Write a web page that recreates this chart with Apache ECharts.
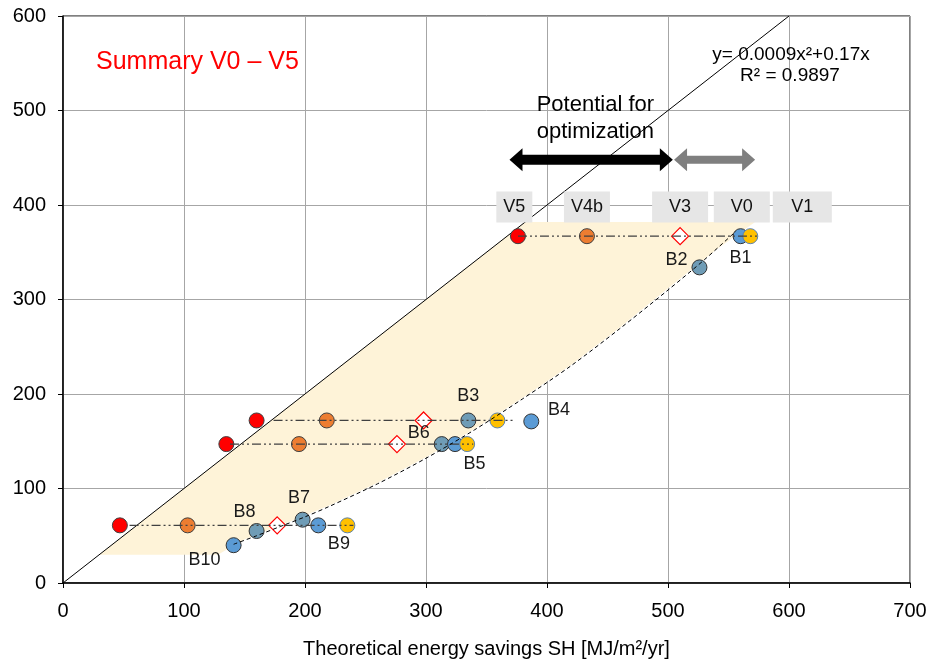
<!DOCTYPE html>
<html>
<head>
<meta charset="utf-8">
<script src="https://cdn.jsdelivr.net/npm/echarts@6/dist/echarts.min.js"></script>
<style>
html,body{margin:0;padding:0;background:#fff;}
#chart{width:928px;height:661px;}
</style>
</head>
<body>
<div id="chart"></div>
<script>
// ---- data ----
const xTicks = [0, 100, 200, 300, 400, 500, 600, 700];
const yTicks = [0, 100, 200, 300, 400, 500, 600];

const rowY      = [367, 172, 147, 61];
const redX      = [376, 160, 135, 47];
const orangeX   = [433, 218, 195, 103];
const diamondX  = [510, 298, 276, 177];
const yellowX   = [568, 359, 334, 235];
const rowLineStart = [376, 174, 138, 55];
const rowLineEnd   = [574, 372, 339, 240];

const blueGrayX = [526, 335, 313, 198, 160];
const blueGrayY = [334, 172, 147, 67, 55];
const blueX     = [560, 387, 324, 211, 141];
const blueY     = [367, 171, 147, 61, 40];

const bLabelNames = ['B1', 'B2', 'B3', 'B4', 'B5', 'B6', 'B7', 'B8', 'B9', 'B10'];
const bLabelX     = [560, 507, 335, 410, 340, 294, 195, 150, 228, 117];
const bLabelY     = [344, 342, 198, 183, 126, 159, 90, 75, 41, 24];

const vLabelNames = ['V5', 'V4b', 'V3', 'V0', 'V1'];
const vLabelX     = [373, 433, 510, 561, 611];
const vLabelY     = [398, 398, 398, 398, 398];
const vLabelW     = [36, 46, 56, 56, 59];

const diagX = [0, 600];
const diagY = [0, 600];

const trendX = [141, 160, 180, 200, 220, 260, 300, 340, 380, 420, 460, 500, 530, 556];
const trendY = [41, 50, 60, 70, 81, 105, 132, 162, 195, 230, 269, 310, 342, 372];

const shadeX = [30, 382, 572, 540, 500, 460, 420, 380, 340, 300, 260, 220, 180, 150, 140, 128, 30];
const shadeY = [30, 382, 382, 353, 312, 270, 231, 196, 163, 133, 106, 82, 61, 46, 39, 30, 30];

const arrowFrom  = [369, 505];
const arrowTo    = [504, 572];
const arrowY     = [448, 448];

const noteText = 'Potential for\noptimization';
const noteX = 440, noteY = 492;

// ---- chart ----
const chart = echarts.init(document.getElementById('chart'), null, {renderer: 'canvas'});
const FONT = '"Liberation Sans", Arial, sans-serif';

function pairs(xs, ys) { return xs.map((x, i) => [x, ys[i]]); }

const series = [];

// shaded region
series.push({
  type: 'custom', silent: true, z: 1,
  data: [[0, 0]],
  renderItem: function (params, api) {
    return {
      type: 'polygon',
      shape: { points: shadeX.map((x, i) => api.coord([x, shadeY[i]])) },
      style: { fill: '#FEF3D8' }
    };
  }
});

// diagonal
series.push({
  type: 'line', data: pairs(diagX, diagY), symbol: 'none', z: 3, silent: true,
  lineStyle: { color: '#000', width: 1 }
});

// scatter groups
function dots(xs, ys, color, border) {
  return {
    type: 'scatter', data: pairs(xs, ys), symbol: 'circle', symbolSize: 15, z: 4,
    itemStyle: { color: color, borderColor: border, borderWidth: 1, opacity: 1 }
  };
}
series.push(dots(redX, rowY, '#FF0000', '#404040'));
series.push(dots(orangeX, rowY, '#ED7D31', '#404040'));
series.push(dots(blueGrayX, blueGrayY, '#6F9CB6', '#333333'));
series.push(dots(blueX, blueY, '#5B9BD5', '#333333'));
series.push(dots(yellowX, rowY, '#FFC000', '#5B82B0'));
series.push({
  type: 'scatter', data: pairs(diamondX, rowY), symbol: 'diamond', symbolSize: [17, 17], z: 4,
  itemStyle: { color: '#ffffff', borderColor: '#FF0000', borderWidth: 1.2, opacity: 1 }
});

// row dash-dot-dot lines
rowY.forEach((y, i) => {
  series.push({
    type: 'line', data: [[rowLineStart[i], y], [rowLineEnd[i], y]], symbol: 'none', z: 5, silent: true,
    lineStyle: { color: '#404040', width: 1.2, type: [9, 3, 2, 3, 2, 3] }
  });
});

// trend curve
series.push({
  type: 'line', data: pairs(trendX, trendY), symbol: 'none', smooth: 0.3, z: 6, silent: true,
  lineStyle: { color: '#000', width: 1, type: [4, 3] }
});

// arrows
series.push({
  type: 'custom', silent: true, z: 6,
  data: arrowFrom.map((f, i) => [f, arrowTo[i], arrowY[i], i]),
  encode: { x: [0, 1], y: 2 },
  renderItem: function (params, api) {
    const a = api.coord([api.value(0), api.value(2)]);
    const b = api.coord([api.value(1), api.value(2)]);
    const idx = api.value(3);
    const h = 13, H = 11.5, t = idx === 0 ? 5 : 4;
    const x1 = a[0], x2 = b[0], y = a[1];
    return {
      type: 'polygon',
      shape: { points: [[x1, y], [x1 + h, y - H], [x1 + h, y - t], [x2 - h, y - t], [x2 - h, y - H], [x2, y],
        [x2 - h, y + H], [x2 - h, y + t], [x1 + h, y + t], [x1 + h, y + H]] },
      style: { fill: idx === 0 ? '#000000' : '#7F7F7F' }
    };
  }
});

// B labels
series.push({
  type: 'custom', silent: true, z: 7,
  data: bLabelNames.map((n, i) => [bLabelX[i], bLabelY[i], i]),
  encode: { x: 0, y: 1 },
  renderItem: function (params, api) {
    const p = api.coord([api.value(0), api.value(1)]);
    return {
      type: 'text', x: p[0], y: p[1],
      style: { text: bLabelNames[api.value(2)], fill: '#1a1a1a', font: '18px ' + FONT, align: 'center', verticalAlign: 'middle' }
    };
  }
});

// V labels
series.push({
  type: 'custom', silent: true, z: 7,
  data: vLabelNames.map((n, i) => [vLabelX[i], vLabelY[i], i]),
  encode: { x: 0, y: 1 },
  renderItem: function (params, api) {
    const p = api.coord([api.value(0), api.value(1)]);
    const i = api.value(2);
    const w = vLabelW[i];
    return {
      type: 'group', children: [
        { type: 'rect', shape: { x: p[0] - w / 2, y: p[1] - 15.5, width: w, height: 31 }, style: { fill: '#E6E6E6' } },
        { type: 'text', x: p[0], y: p[1], style: { text: vLabelNames[i], fill: '#111', font: '18px ' + FONT, align: 'center', verticalAlign: 'middle' } }
      ]
    };
  }
});

// potential text
series.push({
  type: 'custom', silent: true, z: 7,
  data: [[noteX, noteY]],
  renderItem: function (params, api) {
    const p = api.coord([api.value(0), api.value(1)]);
    return {
      type: 'text', x: p[0], y: p[1],
      style: { text: noteText, fill: '#000', font: '22px ' + FONT, lineHeight: 27, align: 'center', verticalAlign: 'middle' }
    };
  }
});

const option = {
  animation: false,
  backgroundColor: '#ffffff',
  title: {
    text: 'Summary V0 \u2013 V5', left: 91, top: 43,
    textStyle: { color: '#FF0000', fontSize: 25, fontWeight: 'normal', fontFamily: FONT, lineHeight: 28 }
  },
  graphic: [
    { type: 'text', x: 791, y: 55, style: { text: 'y= 0.0009x\u00b2+0.17x', fill: '#000', font: '19px ' + FONT, textAlign: 'center', textVerticalAlign: 'middle' }, z: 10 },
    { type: 'text', x: 790, y: 76, style: { text: 'R\u00b2 = 0.9897', fill: '#000', font: '19px ' + FONT, textAlign: 'center', textVerticalAlign: 'middle' }, z: 10 }
  ],
  grid: { left: 63, right: 18, top: 16, bottom: 78, show: true, borderColor: '#000', borderWidth: 1,
    backgroundColor: 'transparent', containLabel: false, outerBoundsMode: 'none' },
  xAxis: {
    type: 'value', min: xTicks[0], max: xTicks[xTicks.length - 1], interval: 100,
    name: 'Theoretical energy savings SH [MJ/m\u00b2/yr]', nameLocation: 'middle', nameGap: 56,
    nameTextStyle: { fontSize: 20, color: '#000', fontFamily: FONT },
    axisLine: { show: true, lineStyle: { color: '#000', width: 1.5 } },
    axisTick: { show: true, length: 5, lineStyle: { color: '#000' } },
    axisLabel: { fontSize: 20, color: '#000', fontFamily: FONT, margin: 18 },
    splitLine: { show: true, lineStyle: { color: '#A6A6A6', width: 1 } }
  },
  yAxis: {
    type: 'value', min: yTicks[0], max: yTicks[yTicks.length - 1], interval: 100,
    axisLine: { show: true, lineStyle: { color: '#000', width: 1.5 } },
    axisTick: { show: true, length: 5, lineStyle: { color: '#000' } },
    axisLabel: { fontSize: 20, color: '#000', fontFamily: FONT, margin: 17 },
    splitLine: { show: true, lineStyle: { color: '#A6A6A6', width: 1 } }
  },
  series: series
};
chart.setOption(option);
</script>
</body>
</html>
